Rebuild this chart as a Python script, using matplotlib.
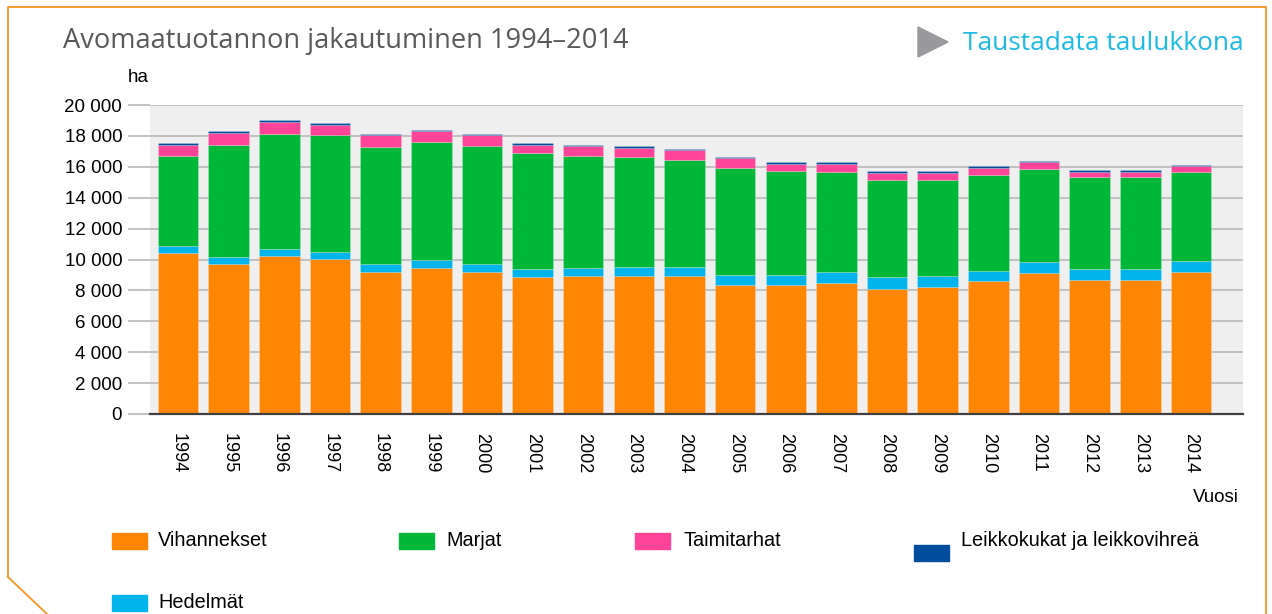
import numpy as np
import matplotlib
matplotlib.use('Agg')
import matplotlib.pyplot as plt
from matplotlib.patches import Rectangle, Polygon
from matplotlib.lines import Line2D

# Data (hectares)
years = ['1994', '1995', '1996', '1997', '1998', '1999', '2000', '2001', '2002', '2003', '2004',
         '2005', '2006', '2007', '2008', '2009', '2010', '2011', '2012', '2013', '2014']
vihannekset = [10420, 9730, 10250, 10050, 9210, 9450, 9210, 8850, 8950, 8950, 8950,
               8350, 8350, 8500, 8110, 8220, 8590, 9130, 8670, 8670, 9210]
hedelmat = [430, 430, 430, 460, 520, 540, 520, 510, 520, 590, 590,
            670, 670, 710, 740, 730, 690, 690, 720, 720, 670]
marjat = [5870, 7270, 7440, 7530, 7530, 7620, 7590, 7530, 7250, 7090, 6920,
          6920, 6730, 6450, 6300, 6200, 6210, 6040, 5950, 5950, 5800]
taimitarhat = [670, 780, 780, 690, 780, 710, 740, 540, 600, 610, 610,
               610, 450, 540, 450, 450, 430, 430, 320, 320, 350]
leikkokukat = [130, 110, 110, 100, 100, 80, 80, 110, 110, 110, 100,
               110, 110, 110, 110, 110, 110, 110, 110, 110, 110]

c_vih = '#FF8505'
c_hed = '#00B5EC'
c_mar = '#00B838'
c_tai = '#FF4499'
c_lei = '#014C9C'

W, H = 1272, 614
fig = plt.figure(figsize=(W / 100, H / 100), dpi=100)

def fx(x):
    return x / W

def fy(y):
    return 1 - y / H

ax = fig.add_axes([fx(150), fy(414), fx(1243) - fx(150), fy(105) - fy(414)])
ax.set_facecolor('#EFEFEF')

x = np.arange(len(years))
series = [(vihannekset, c_vih), (hedelmat, c_hed), (marjat, c_mar),
          (taimitarhat, c_tai), (leikkokukat, c_lei)]
bottom = np.zeros(len(years))
for vals, col in series:
    ax.bar(x, vals, 0.8, bottom=bottom, color=col, edgecolor=(1, 1, 1, 0.35),
           linewidth=0.4, zorder=3)
    bottom += np.array(vals)

ax.set_xlim(-0.553, 21.027)
ax.set_ylim(0, 20000)
yt = np.arange(0, 20001, 2000)
ax.set_yticks(yt)
ax.set_yticklabels([f'{v:,}'.replace(',', ' ') for v in yt], fontsize=13.5,
                   family='Liberation Sans')
ax.grid(axis='y', color='#B8B8B8', linewidth=1.2, zorder=1)
ax.tick_params(axis='y', length=16, color='#B8B8B8', width=1.2, pad=4)
ax.set_xticks(x)
ax.set_xticklabels(years, rotation=270, fontsize=13, family='Liberation Sans')
ax.tick_params(axis='x', length=0, pad=14)
for s in ['top', 'right', 'left']:
    ax.spines[s].set_visible(False)
ax.spines['bottom'].set_color('#404040')
ax.spines['bottom'].set_linewidth(1.6)
ax.spines['bottom'].set_zorder(4)

# Titles and labels
fig.text(fx(63), fy(41), 'Avomaatuotannon jakautuminen 1994–2014', fontsize=19.6,
         family='Open Sans', color='#58595B', va='center', ha='left')
fig.patches.append(Polygon([(fx(918), fy(27)), (fx(918), fy(57)), (fx(948), fy(42))],
                           closed=True, color='#99999D', transform=fig.transFigure))
fig.text(fx(963), fy(43), 'Taustadata taulukkona', fontsize=18.9, family='Open Sans',
         color='#1CBBE4', va='center', ha='left')
fig.text(fx(128), fy(77), 'ha', fontsize=13.5, family='Liberation Sans', va='center')
fig.text(fx(1239), fy(497), 'Vuosi', fontsize=13.5, family='Liberation Sans',
         va='center', ha='right')

# Legend
legend_items = [
    ('Vihannekset', c_vih, 112, 533, 158, 540),
    ('Marjat', c_mar, 399, 533, 446, 540),
    ('Taimitarhat', c_tai, 635, 533, 683, 540),
    ('Leikkokukat ja leikkovihreä', c_lei, 914, 545, 961, 540),
    ('Hedelmät', c_hed, 112, 595, 158, 602),
]
for label, col, sx, sy, tx, ty in legend_items:
    fig.patches.append(Rectangle((fx(sx), fy(sy + 16)), fx(35), 16 / H, color=col,
                                 transform=fig.transFigure))
    fig.text(fx(tx), fy(ty), label, fontsize=14.3, family='Liberation Sans',
             va='center', ha='left')

# Orange frame with cut corner
frame = Line2D([fx(8), fx(8), fx(1266), fx(1266)], [fy(577), fy(7), fy(7), fy(614)],
               color='#F7931E', linewidth=1.3, transform=fig.transFigure)
corner = Line2D([fx(8), fx(47)], [fy(577), fy(614)], color='#F7931E', linewidth=1.3,
                transform=fig.transFigure)
fig.lines.extend([frame, corner])

fig.savefig('out.png', dpi=100)
